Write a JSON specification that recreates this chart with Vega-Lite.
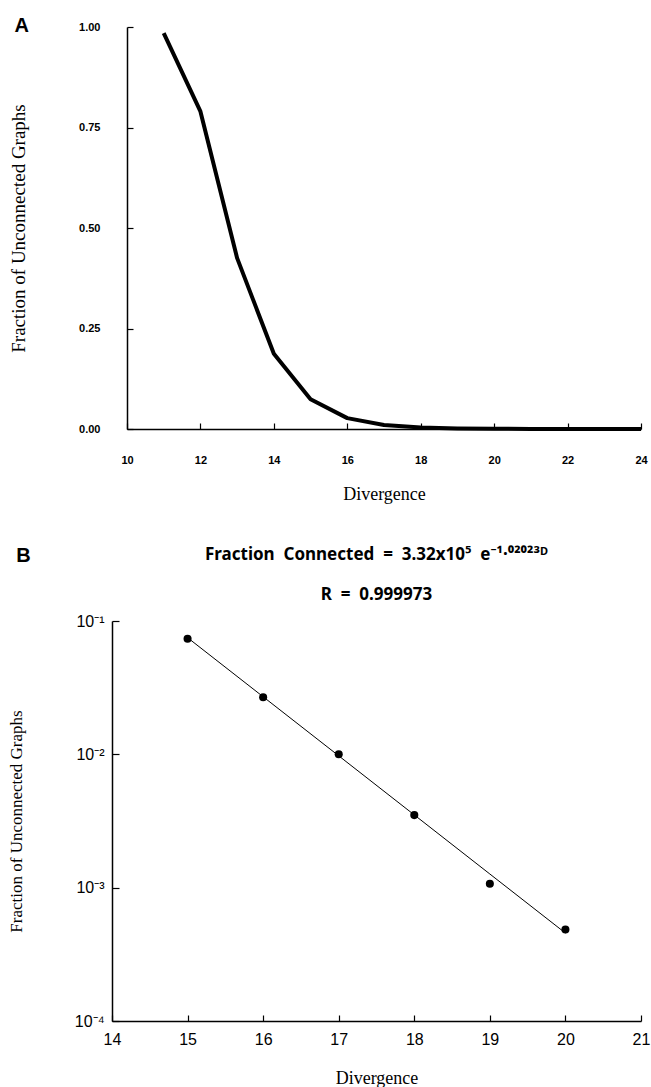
{
  "$schema": "https://vega.github.io/schema/vega-lite/v6.json",
  "background": "white",
  "padding": {"left": 7, "top": 16, "right": 8, "bottom": 4},
  "spacing": 43,
  "config": {
    "view": {"stroke": null},
    "axis": {
      "grid": false,
      "domainColor": "black",
      "domainWidth": 1.5,
      "tickColor": "black",
      "tickWidth": 1.2,
      "labelColor": "black",
      "titleColor": "black",
      "labelFont": "Liberation Sans",
      "titleFont": "Liberation Serif",
      "titleFontWeight": "normal"
    },
    "title": {"color": "black", "font": "Liberation Sans", "fontWeight": "bold"}
  },
  "vconcat": [
    {
      "title": {"text": "A", "anchor": "start", "frame": "bounds", "fontSize": 20, "offset": -15, "dx": 5},
      "width": 529,
      "height": 402,
      "data": {
        "values": [
          {"d": 11, "f": 0.985},
          {"d": 12, "f": 0.79},
          {"d": 13, "f": 0.425},
          {"d": 14, "f": 0.187},
          {"d": 15, "f": 0.074},
          {"d": 16, "f": 0.027},
          {"d": 17, "f": 0.010},
          {"d": 18, "f": 0.0035},
          {"d": 19, "f": 0.0011},
          {"d": 20, "f": 0.0005},
          {"d": 21, "f": 0.0002},
          {"d": 22, "f": 0.0001},
          {"d": 23, "f": 0.00005},
          {"d": 24, "f": 0.00002}
        ]
      },
      "mark": {"type": "line", "color": "black", "strokeWidth": 4, "strokeJoin": "round"},
      "encoding": {
        "x": {
          "field": "d",
          "type": "quantitative",
          "scale": {"domain": [10, 24], "range": [15, 529], "nice": false, "zero": false},
          "axis": {
            "values": [10, 12, 14, 16, 18, 20, 22, 24],
            "title": "Divergence",
            "titleFontSize": 18,
            "titlePadding": 20,
            "labelFontSize": 11,
            "labelFontWeight": "bold",
            "labelFlush": false,
            "tickSize": -6,
            "labelPadding": 31
          }
        },
        "y": {
          "field": "f",
          "type": "quantitative",
          "scale": {"domain": [0, 1], "nice": false},
          "axis": {
            "values": [0, 0.25, 0.5, 0.75, 1],
            "format": ".2f",
            "offset": -15,
            "title": "Fraction of Unconnected Graphs",
            "titleFontSize": 19,
            "titlePadding": 50,
            "labelFontSize": 11,
            "labelFontWeight": "bold",
            "tickSize": -6,
            "labelPadding": 33
          }
        }
      }
    },
    {
      "title": {"text": "B", "anchor": "start", "frame": "bounds", "fontSize": 20, "offset": -20, "dx": 9},
      "vconcat": [
        {
          "title": {
            "text": ["Fraction \u00a0Connected \u00a0= \u00a03.32x10⁵ \u00a0e⁻¹·⁰²⁰²³ᴰ", "R \u00a0= \u00a00.999973"],
            "anchor": "middle",
            "frame": "group",
            "font": "Noto Sans",
            "fontSize": 17,
            "lineHeight": 40,
            "offset": 9
          },
          "width": 529,
          "height": 400,
          "data": {
            "values": [
              {"d": 15, "observed": 0.0736, "fit": 0.07498},
              {"d": 16, "observed": 0.0268, "fit": 0.02703},
              {"d": 17, "observed": 0.0100, "fit": 0.009748},
              {"d": 18, "observed": 0.0035, "fit": 0.003513},
              {"d": 19, "observed": 0.00107, "fit": 0.001266},
              {"d": 20, "observed": 0.000486, "fit": 0.0004567}
            ]
          },
          "encoding": {
            "x": {
              "field": "d",
              "type": "quantitative",
              "scale": {"domain": [14, 21], "nice": false, "zero": false},
              "axis": {
                "values": [14, 15, 16, 17, 18, 19, 20, 21],
                "title": "Divergence",
                "titleFontSize": 18,
                "titlePadding": 22,
                "labelFontSize": 16,
                "labelFlush": false,
                "tickSize": -6,
                "labelPadding": 16
              }
            }
          },
          "layer": [
            {
              "mark": {"type": "line", "color": "black", "strokeWidth": 1},
              "encoding": {
                "y": {
                  "field": "fit",
                  "type": "quantitative",
                  "scale": {"type": "log", "domain": [0.0001, 0.1], "nice": false},
                  "axis": {
                    "values": [0.1, 0.01, 0.001, 0.0001],
                    "labelExpr": "datum.value > 0.05 ? '10⁻¹' : datum.value > 0.005 ? '10⁻²' : datum.value > 0.0005 ? '10⁻³' : '10⁻⁴'",
                    "title": "Fraction of Unconnected Graphs",
                    "titleFontSize": 17,
                    "titlePadding": 49,
                    "labelFontSize": 16,
                    "tickSize": -7,
                    "labelPadding": 15
                  }
                }
              }
            },
            {
              "mark": {"type": "point", "filled": true, "color": "black", "opacity": 1, "size": 65},
              "encoding": {
                "y": {
                  "field": "observed",
                  "type": "quantitative",
                  "scale": {"type": "log", "domain": [0.0001, 0.1], "nice": false}
                }
              }
            }
          ]
        }
      ]
    }
  ]
}
